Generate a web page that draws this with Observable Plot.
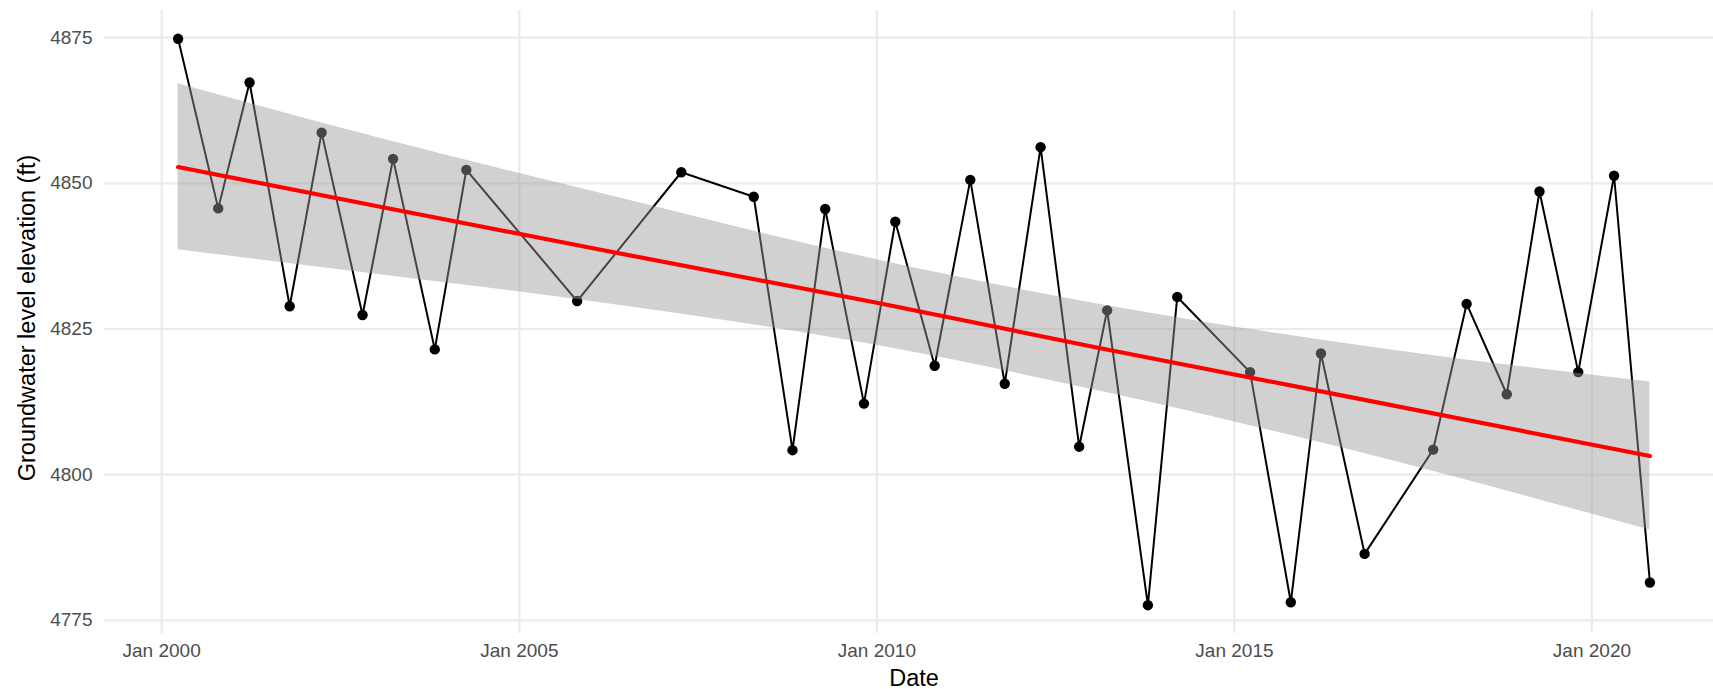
<!DOCTYPE html>
<html>
<head>
<meta charset="utf-8">
<script src="https://cdn.jsdelivr.net/npm/d3@7"></script>
<script src="https://cdn.jsdelivr.net/npm/@observablehq/plot@0.6"></script>
<style>
  html, body { margin: 0; padding: 0; background: #fff; overflow: hidden; }
</style>
</head>
<body>
<div id="chart"></div>
<script>
const dates = [
  "2000-03-25", "2000-10-16", "2001-03-25", "2001-10-16", "2002-03-28",
  "2002-10-23", "2003-03-28", "2003-10-27", "2004-04-05", "2005-10-23",
  "2007-04-08", "2008-04-12", "2008-10-27", "2009-04-12", "2009-10-27",
  "2010-04-05", "2010-10-23", "2011-04-23", "2011-10-16", "2012-04-16",
  "2012-10-30", "2013-03-22", "2013-10-16", "2014-03-15", "2015-03-22",
  "2015-10-16", "2016-03-18", "2016-10-27", "2017-10-12", "2018-04-01",
  "2018-10-23", "2019-04-08", "2019-10-23", "2020-04-23", "2020-10-23"
];
const levels = [
  4874.8, 4845.7, 4867.3, 4828.9, 4858.7,
  4827.4, 4854.2, 4821.5, 4852.3, 4829.8,
  4851.9, 4847.7, 4804.2, 4845.6, 4812.2,
  4843.4, 4818.7, 4850.6, 4815.6, 4856.2,
  4804.8, 4828.2, 4777.6, 4830.5, 4817.6,
  4778.1, 4820.8, 4786.4, 4804.3, 4829.3,
  4813.8, 4848.6, 4817.6, 4851.3, 4781.5
];

// ---- linear trend and its 95% band ----
const fitDates = ["2000-03-25", "2003-01-01", "2006-02-20", "2010-01-01", "2013-02-15", "2016-07-01", "2020-10-23"];
const fitLevel = [4852.8, 4846.1, 4838.6, 4829.5, 4821.7, 4813.6, 4803.2];
const bandHigh = [4867.1, 4857.9, 4848.3, 4836.9, 4829.2, 4822.6, 4815.9];
const bandLow  = [4838.6, 4834.4, 4829.5, 4822.2, 4814.3, 4804.6, 4790.5];

const yTicks = [4775, 4800, 4825, 4850, 4875];
const xTickDates = ["2000-01-01", "2005-01-01", "2010-01-01", "2015-01-01", "2020-01-01"];
const xTickLabels = ["Jan 2000", "Jan 2005", "Jan 2010", "Jan 2015", "Jan 2020"];
const xTitle = "Date";
const yTitle = "Groundwater level elevation (ft)";

// ---- build tables ----
const data = dates.map((d, i) => ({ date: new Date(d), level: levels[i] }));
const fit = fitDates.map((d, i) => ({ date: new Date(d), level: fitLevel[i], lo: bandLow[i], hi: bandHigh[i] }));
const tickDates = xTickDates.map(d => new Date(d));
function expand(ext, f = 0.05) { const r = ext[1] - ext[0]; return [ext[0] - r * f, ext[1] + r * f]; }
const xDom = expand(d3.extent(data, d => +d.date)).map(v => new Date(v));
const yDom = expand(d3.extent(levels));

const W = 1713, H = 689;
const mL = 104, mT = 10, mB = 56;
// the panel of the original runs a little past the picture's right edge
const panelRight = 1723;

const gridStyle = { stroke: "#ebebeb", strokeOpacity: 1, strokeWidth: 2.2 };

const chart = Plot.plot({
  width: W,
  height: H,
  marginLeft: mL,
  marginRight: 0,
  marginTop: mT,
  marginBottom: mB,
  style: { fontFamily: "'Liberation Sans', Arial, Helvetica, sans-serif", background: "#ffffff" },
  x: { type: "utc", domain: xDom, range: [mL, panelRight] },
  y: { domain: yDom },
  marks: [
    Plot.gridX(tickDates, gridStyle),
    Plot.gridY(yTicks, gridStyle),
    Plot.axisX(tickDates, {
      tickSize: 0, tickPadding: 10, fontSize: 19, fill: "#4d4d4d", label: null,
      tickFormat: d => xTickLabels[tickDates.findIndex(t => +t === +d)]
    }),
    Plot.axisY(yTicks, {
      tickSize: 0, tickPadding: 12, fontSize: 19, fill: "#4d4d4d", label: null,
      tickFormat: d => String(d)
    }),
    Plot.line(data, { x: "date", y: "level", stroke: "#000000", strokeWidth: 2 }),
    Plot.dot(data, { x: "date", y: "level", r: 5.2, fill: "#000000", stroke: "none" }),
    Plot.areaY(fit, { x: "date", y1: "lo", y2: "hi", fill: "#999999", fillOpacity: 0.45, curve: "monotone-x" }),
    Plot.line(fit, { x: "date", y: "level", stroke: "#ff0000", strokeWidth: 4.2 }),
    Plot.text([xTitle], { x: () => new Date((+xDom[0] + +xDom[1]) / 2), frameAnchor: "bottom", textAnchor: "middle", dy: 52, fontSize: 23.5, fill: "#000000" }),
    Plot.text([yTitle], { frameAnchor: "left", textAnchor: "middle", dx: -77, dy: -4, rotate: -90, fontSize: 23.5, fill: "#000000" })
  ]
});
document.getElementById("chart").appendChild(chart);
</script>
</body>
</html>
